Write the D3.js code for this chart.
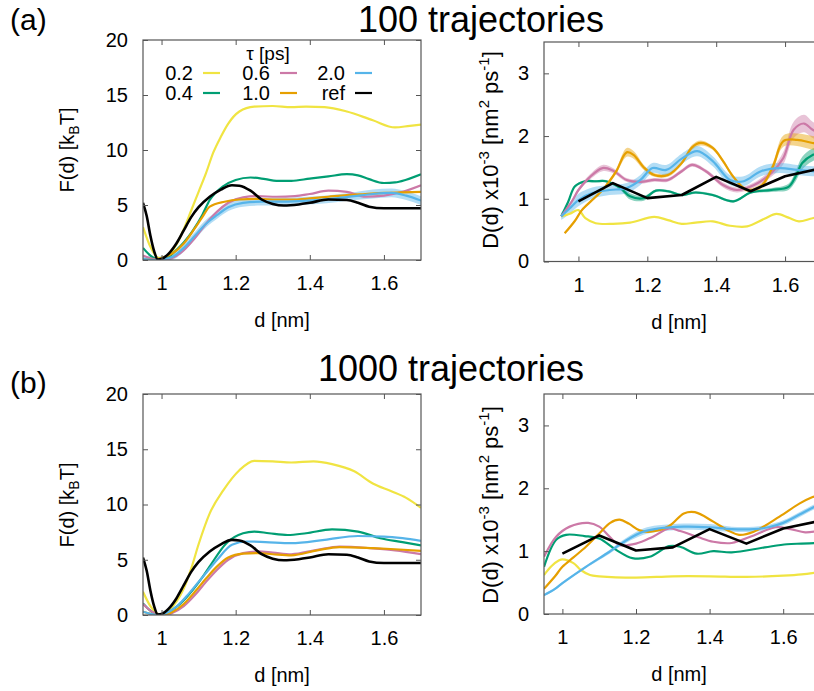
<!DOCTYPE html>
<html>
<head>
<meta charset="utf-8">
<script src="https://cdn.jsdelivr.net/npm/d3@7"></script>
<style>
body { margin: 0; background: #fff; }
text { font-family: "Liberation Sans", Arial, sans-serif; fill: #000; }
</style>
</head>
<body>
<script>
// legend
var tauNames = ["0.2", "0.4", "0.6", "1.0", "2.0", "ref"];
var tauColors = ["#f0e442", "#009e73", "#cc79a7", "#e69f00", "#56b4e9", "#000000"];

var xTicks = [1, 1.2, 1.4, 1.6];
var fTicks = [0, 5, 10, 15, 20];
var dTicks = [0, 1, 2, 3];

// F(d), 100 trajectories  [d, F, err]
var tlYellow = [[0.95,3.0],[0.97,1.2],[0.99,0.2],[1.0,0.1],[1.02,0.5],[1.04,1.4],[1.06,2.8],[1.08,4.5],[1.1,6.2],[1.12,7.9],[1.14,9.8],[1.16,11.2],[1.18,12.4],[1.21,13.5],[1.25,13.95],[1.3,14.0],[1.35,13.9],[1.39,13.95],[1.44,13.9],[1.5,13.5],[1.57,12.7],[1.63,12.05],[1.67,12.2],[1.7,12.3]];
var tlGreen = [[0.95,1.1],[0.97,0.4],[0.99,0.05],[1.0,0.05],[1.02,0.3],[1.04,0.9],[1.06,1.6],[1.085,2.7],[1.11,4.1],[1.13,5.45],[1.166,6.7],[1.2,7.27],[1.24,7.5],[1.28,7.35],[1.31,7.2],[1.35,7.2],[1.4,7.4],[1.45,7.6],[1.5,7.8],[1.53,7.7],[1.56,7.35],[1.6,7.0],[1.63,7.05],[1.66,7.3],[1.7,7.8]];
var tlPink = [[0.95,0.4],[0.97,0.15],[1.0,0.0],[1.03,0.2],[1.06,0.9],[1.09,2.0],[1.12,3.3],[1.15,4.4],[1.18,5.2],[1.22,5.7],[1.26,5.8],[1.31,5.75],[1.36,5.8],[1.4,6.0],[1.45,6.3],[1.5,6.2],[1.55,5.75],[1.6,5.85],[1.65,6.2],[1.7,6.8]];
var tlOrange = [[0.95,0.1],[0.98,0.0],[1.0,0.2],[1.03,0.6],[1.06,1.5],[1.09,2.9],[1.11,3.9],[1.13,4.85],[1.17,5.3],[1.21,5.5],[1.26,5.55],[1.31,5.5],[1.36,5.5],[1.4,5.6],[1.45,5.75],[1.5,5.9],[1.55,6.0],[1.6,6.1],[1.65,6.15],[1.7,6.2]];
var tlBlue = [[0.95,0.1,0.3],[0.98,0.0,0.3],[1.0,0.05,0.3],[1.03,0.3,0.3],[1.06,1.1,0.35],[1.09,2.2,0.35],[1.12,3.3,0.35],[1.15,4.1,0.35],[1.18,4.8,0.35],[1.22,5.2,0.35],[1.27,5.3,0.35],[1.32,5.3,0.35],[1.37,5.35,0.35],[1.42,5.45,0.35],[1.47,5.6,0.35],[1.52,5.8,0.35],[1.57,6.0,0.4],[1.62,6.1,0.4],[1.66,5.85,0.4],[1.7,5.4,0.4]];
var fRef = [[0.95,5.2],[0.96,4.0],[0.97,2.2],[0.98,0.8],[0.99,0.05],[1.0,0.1],[1.02,0.6],[1.04,1.5],[1.06,2.7],[1.08,3.9],[1.1,4.8],[1.13,5.75],[1.16,6.4],[1.19,6.8],[1.21,6.75],[1.24,6.3],[1.27,5.5],[1.3,5.1],[1.33,4.95],[1.37,5.05],[1.4,5.2],[1.45,5.5],[1.5,5.45],[1.53,5.2],[1.56,4.85],[1.6,4.7],[1.65,4.7],[1.7,4.7]];

// F(d), 1000 trajectories
var blYellow = [[0.95,2.1],[0.97,0.8],[0.99,0.1],[1.0,0.05],[1.02,0.4],[1.04,1.2],[1.06,2.4],[1.08,4.2],[1.1,6.4],[1.13,9.2],[1.167,11.3],[1.21,13.1],[1.25,13.95],[1.3,13.9],[1.35,13.8],[1.41,13.9],[1.46,13.65],[1.52,13.0],[1.57,11.9],[1.62,11.2],[1.66,10.6],[1.7,9.7]];
var blGreen = [[0.95,1.05],[0.97,0.4],[0.99,0.05],[1.0,0.05],[1.02,0.3],[1.05,1.0],[1.085,2.3],[1.11,3.4],[1.13,4.4],[1.175,6.5],[1.22,7.4],[1.25,7.55],[1.29,7.4],[1.34,7.24],[1.39,7.4],[1.46,7.75],[1.53,7.55],[1.59,6.95],[1.65,6.6],[1.7,6.3]];
var blPink = [[0.95,1.0],[0.97,0.4],[0.99,0.05],[1.01,0.0],[1.03,0.2],[1.06,0.8],[1.09,1.8],[1.12,3.0],[1.15,4.1],[1.18,5.0],[1.22,5.6],[1.26,5.75],[1.3,5.65],[1.35,5.5],[1.42,5.9],[1.48,6.2],[1.57,6.03],[1.63,5.85],[1.7,5.5]];
var blOrange = [[0.95,0.3],[0.97,0.1],[0.99,0.0],[1.01,0.05],[1.03,0.3],[1.06,1.0],[1.09,2.1],[1.12,3.3],[1.15,4.4],[1.18,5.2],[1.22,5.55],[1.26,5.6],[1.3,5.5],[1.35,5.4],[1.42,5.85],[1.48,6.15],[1.57,6.05],[1.63,5.95],[1.7,5.8]];
var blBlue = [[0.95,0.3],[0.97,0.1],[0.99,0.0],[1.0,0.05],[1.02,0.3],[1.04,0.75],[1.07,1.8],[1.1,3.0],[1.125,4.0],[1.15,5.0],[1.19,6.35],[1.23,6.65],[1.28,6.6],[1.35,6.5],[1.44,6.8],[1.53,7.15],[1.6,7.1],[1.65,6.95],[1.7,6.7]];

// D(d) x1e-3, 100 trajectories  [d, D, err]
var trYellow = [[0.95,0.72],[0.975,0.76],[1.0,0.82],[1.02,0.69],[1.05,0.61],[1.1,0.6],[1.15,0.62],[1.22,0.71],[1.26,0.66],[1.3,0.6],[1.34,0.62],[1.39,0.64],[1.44,0.57],[1.49,0.56],[1.54,0.68],[1.575,0.76],[1.61,0.7],[1.64,0.64],[1.68,0.69],[1.72,0.72]];
var trGreen = [[0.95,0.72,0],[0.97,0.95,0.01],[0.99,1.2,0.02],[1.02,1.28,0.02],[1.05,1.28,0.02],[1.08,1.28,0.02],[1.12,1.18,0.03],[1.15,1.04,0.05],[1.19,1.01,0.04],[1.225,1.13,0.02],[1.26,1.12,0.02],[1.3,1.06,0.02],[1.34,1.1,0.02],[1.39,1.06,0.02],[1.45,0.96,0.02],[1.5,1.1,0.02],[1.56,1.14,0.03],[1.61,1.19,0.05],[1.63,1.35,0.08],[1.65,1.57,0.1],[1.68,1.7,0.1],[1.72,1.75,0.1]];
var trPink = [[0.95,0.72,0],[0.98,0.95,0.02],[1.0,1.14,0.03],[1.03,1.33,0.04],[1.07,1.49,0.05],[1.1,1.45,0.04],[1.14,1.3,0.03],[1.18,1.27,0.03],[1.22,1.3,0.03],[1.26,1.3,0.03],[1.3,1.44,0.03],[1.33,1.54,0.03],[1.37,1.44,0.03],[1.42,1.22,0.04],[1.46,1.14,0.04],[1.51,1.22,0.04],[1.56,1.41,0.06],[1.595,1.65,0.1],[1.625,2.1,0.13],[1.655,2.2,0.14],[1.68,2.1,0.13],[1.72,2.0,0.12]];
var trOrange = [[0.96,0.45,0],[0.99,0.65,0.01],[1.01,0.82,0.02],[1.04,0.98,0.02],[1.07,1.14,0.02],[1.09,1.28,0.03],[1.11,1.44,0.04],[1.14,1.74,0.07],[1.16,1.7,0.06],[1.19,1.5,0.04],[1.22,1.38,0.03],[1.26,1.38,0.03],[1.3,1.57,0.03],[1.33,1.82,0.04],[1.355,1.89,0.04],[1.39,1.81,0.03],[1.42,1.6,0.03],[1.45,1.35,0.03],[1.49,1.14,0.03],[1.53,1.2,0.04],[1.565,1.52,0.06],[1.595,1.92,0.09],[1.635,1.94,0.1],[1.68,1.89,0.11],[1.72,1.85,0.11]];
var trBlue = [[0.95,0.72,0.06],[0.975,0.85,0.09],[1.0,0.98,0.1],[1.04,1.09,0.09],[1.09,1.14,0.08],[1.14,1.17,0.08],[1.18,1.3,0.08],[1.215,1.49,0.08],[1.255,1.46,0.08],[1.3,1.64,0.08],[1.345,1.76,0.08],[1.39,1.6,0.08],[1.44,1.3,0.08],[1.48,1.28,0.08],[1.53,1.44,0.08],[1.585,1.49,0.08],[1.635,1.46,0.08],[1.68,1.44,0.08],[1.72,1.43,0.08]];
var dRef = [[1.0,0.96],[1.1,1.25],[1.2,1.01],[1.3,1.06],[1.4,1.35],[1.5,1.12],[1.6,1.36],[1.7,1.48]];

// D(d) x1e-3, 1000 trajectories
var brYellow = [[0.95,0.62],[0.97,0.76],[0.99,0.85],[1.0,0.87],[1.03,0.81],[1.05,0.7],[1.075,0.62],[1.1,0.6],[1.2,0.58],[1.3,0.6],[1.4,0.6],[1.5,0.59],[1.6,0.61],[1.65,0.63],[1.7,0.67]];
var brGreen = [[0.95,0.75],[0.983,1.18],[1.01,1.26],[1.06,1.24],[1.1,1.2],[1.146,1.02],[1.19,0.89],[1.237,0.91],[1.29,1.08],[1.32,1.07],[1.365,0.96],[1.41,1.0],[1.46,0.98],[1.55,1.06],[1.61,1.11],[1.65,1.12],[1.7,1.13]];
var brPink = [[0.95,0.91],[0.983,1.23],[1.02,1.39],[1.07,1.45],[1.1,1.39],[1.128,1.23],[1.155,1.1],[1.2,1.12],[1.246,1.23],[1.29,1.36],[1.32,1.32],[1.37,1.22],[1.41,1.15],[1.46,1.13],[1.52,1.25],[1.58,1.38],[1.62,1.35],[1.66,1.3],[1.7,1.33]];
var brOrange = [[0.95,0.4],[0.98,0.6],[1.0,0.75],[1.03,0.9],[1.064,1.07],[1.1,1.28],[1.13,1.45],[1.155,1.5],[1.18,1.44],[1.21,1.33],[1.24,1.31],[1.29,1.4],[1.33,1.6],[1.36,1.62],[1.41,1.47],[1.45,1.33],[1.48,1.26],[1.52,1.31],[1.59,1.55],[1.645,1.76],[1.68,1.86],[1.7,1.9]];
var brBlue = [[0.95,0.3,0.02],[0.98,0.4,0.02],[1.0,0.49,0.02],[1.064,0.75,0.02],[1.128,0.99,0.03],[1.173,1.17,0.04],[1.22,1.31,0.05],[1.26,1.36,0.05],[1.33,1.39,0.05],[1.4,1.38,0.05],[1.46,1.35,0.04],[1.52,1.35,0.04],[1.56,1.38,0.04],[1.6,1.45,0.04],[1.65,1.6,0.04],[1.7,1.75,0.04]];

var width = 814, height = 691;

var svg = d3.select("body").append("svg")
    .attr("width", width)
    .attr("height", height);

function drawPanel(p) {
    var x = d3.scaleLinear().domain(p.xDomain).range([p.left, p.right]);
    var y = d3.scaleLinear().domain(p.yDomain).range([p.bottom, p.top]);

    svg.append("clipPath").attr("id", "clip" + p.id)
        .append("rect")
        .attr("x", p.left).attr("y", p.top)
        .attr("width", p.right - p.left).attr("height", p.bottom - p.top);

    var plot = svg.append("g").attr("clip-path", "url(#clip" + p.id + ")");

    // shaded error bands first
    p.series.forEach(function(s) {
        if (s.data.every(function(d) { return !d[2]; })) return;
        var area = d3.area()
            .x(function(d) { return x(d[0]); })
            .y0(function(d) { return y(d[1] - (d[2] || 0)); })
            .y1(function(d) { return y(d[1] + (d[2] || 0)); })
            .curve(p.curve);
        plot.append("path").datum(s.data)
            .attr("d", area)
            .attr("fill", tauColors[s.c])
            .attr("opacity", 0.45);
    });

    p.series.forEach(function(s) {
        var line = d3.line()
            .x(function(d) { return x(d[0]); })
            .y(function(d) { return y(d[1]); })
            .curve(s.c == 5 && p.straightRef ? d3.curveLinear : p.curve);
        plot.append("path").datum(s.data)
            .attr("d", line)
            .attr("fill", "none")
            .attr("stroke", tauColors[s.c])
            .attr("stroke-width", s.c == 5 ? 2.6 : 2.2)
            .attr("stroke-linejoin", "round");
    });

    var fmt = function(d) { return String(d); };

    var ax = [
        svg.append("g").attr("transform", "translate(0," + p.bottom + ")")
            .call(d3.axisBottom(x).tickValues(xTicks).tickSize(-5).tickPadding(16).tickFormat(fmt)),
        svg.append("g").attr("transform", "translate(0," + p.top + ")")
            .call(d3.axisTop(x).tickValues(xTicks).tickSize(-5).tickFormat("")),
        svg.append("g").attr("transform", "translate(" + p.left + ",0)")
            .call(d3.axisLeft(y).tickValues(p.yTicks).tickSize(-5).tickPadding(15).tickFormat(fmt)),
        svg.append("g").attr("transform", "translate(" + p.right + ",0)")
            .call(d3.axisRight(y).tickValues(p.yTicks).tickSize(-5).tickFormat(""))
    ];
    ax.forEach(function(a) {
        a.select(".domain").remove();
        a.selectAll("line").attr("stroke", "#555");
        a.selectAll("text").attr("font-size", 20).attr("font-family", null);
    });

    svg.append("rect")
        .attr("x", p.left).attr("y", p.top)
        .attr("width", p.right - p.left).attr("height", p.bottom - p.top)
        .attr("fill", "none").attr("stroke", "#555").attr("stroke-width", 1.2);

    svg.append("text")
        .attr("x", (p.left + Math.min(p.right, width)) / 2 + p.xlabShift)
        .attr("y", p.bottom + 67)
        .attr("text-anchor", "middle")
        .attr("font-size", 20)
        .text("d [nm]");
}

var fCurve = d3.curveMonotoneX;
var dCurve = d3.curveCatmullRom.alpha(0.5);

drawPanel({ id: "tl", left: 143, right: 421, top: 40, bottom: 260,
    xDomain: [0.95, 1.7], yDomain: [0, 20], yTicks: fTicks, curve: fCurve, xlabShift: 0,
    series: [{c:0, data:tlYellow}, {c:1, data:tlGreen}, {c:2, data:tlPink},
             {c:3, data:tlOrange}, {c:4, data:tlBlue}, {c:5, data:fRef}] });

drawPanel({ id: "tr", left: 544, right: 819.5, top: 42, bottom: 261.5,
    xDomain: [0.9, 1.7], yDomain: [0, 3.5], yTicks: dTicks, curve: dCurve, straightRef: true, xlabShift: 0,
    series: [{c:0, data:trYellow}, {c:1, data:trGreen}, {c:2, data:trPink},
             {c:3, data:trOrange}, {c:4, data:trBlue}, {c:5, data:dRef}] });

drawPanel({ id: "bl", left: 143, right: 421, top: 394, bottom: 615,
    xDomain: [0.95, 1.7], yDomain: [0, 20], yTicks: fTicks, curve: fCurve, xlabShift: 0,
    series: [{c:0, data:blYellow}, {c:1, data:blGreen}, {c:2, data:blPink},
             {c:3, data:blOrange}, {c:4, data:blBlue}, {c:5, data:fRef}] });

drawPanel({ id: "br", left: 544, right: 820, top: 394, bottom: 614,
    xDomain: [0.95, 1.7], yDomain: [0, 3.5], yTicks: dTicks, curve: dCurve, straightRef: true, xlabShift: 0,
    series: [{c:0, data:brYellow}, {c:1, data:brGreen}, {c:2, data:brPink},
             {c:3, data:brOrange}, {c:4, data:brBlue}, {c:5, data:dRef}] });

// y-axis titles
function fLabel(cy) {
    var t = svg.append("text")
        .attr("transform", "translate(74," + cy + ") rotate(-90)")
        .attr("text-anchor", "middle")
        .attr("font-size", 20);
    t.append("tspan").text("F(d) [k");
    t.append("tspan").attr("font-size", 14).attr("dy", 5).text("B");
    t.append("tspan").attr("dy", -5).text("T]");
}
function dLabel(cy) {
    var t = svg.append("text")
        .attr("transform", "translate(498," + cy + ") rotate(-90)")
        .attr("text-anchor", "middle")
        .attr("font-size", 22);
    t.append("tspan").text("D(d) x10");
    t.append("tspan").attr("font-size", 15).attr("dy", -9).text("-3");
    t.append("tspan").attr("dy", 9).text(" [nm");
    t.append("tspan").attr("font-size", 15).attr("dy", -9).text("2");
    t.append("tspan").attr("dy", 9).text(" ps");
    t.append("tspan").attr("font-size", 15).attr("dy", -9).text("-1");
    t.append("tspan").attr("dy", 9).text("]");
}
fLabel(150); fLabel(505);
dLabel(150); dLabel(505);

// titles and panel letters
svg.append("text").attr("x", 481).attr("y", 32).attr("text-anchor", "middle")
    .attr("font-size", 36).text("100 trajectories");
svg.append("text").attr("x", 451).attr("y", 381).attr("text-anchor", "middle")
    .attr("font-size", 36).text("1000 trajectories");
svg.append("text").attr("x", 10).attr("y", 30).attr("font-size", 30).text("(a)");
svg.append("text").attr("x", 10).attr("y", 393).attr("font-size", 30).text("(b)");

// legend
svg.append("text").attr("x", 268).attr("y", 60).attr("text-anchor", "middle")
    .attr("font-size", 19).text("\u03c4 [ps]");
var legX = [193, 270, 345];
var legY = [73, 93];
tauNames.forEach(function(name, i) {
    var col = Math.floor(i / 2), row = i % 2;
    svg.append("text")
        .attr("x", legX[col]).attr("y", legY[row] + 7)
        .attr("text-anchor", "end")
        .attr("font-size", 20)
        .text(name);
    svg.append("line")
        .attr("x1", legX[col] + 10).attr("x2", legX[col] + 27)
        .attr("y1", legY[row]).attr("y2", legY[row])
        .attr("stroke", tauColors[i])
        .attr("stroke-width", 2.2);
});
</script>
</body>
</html>
